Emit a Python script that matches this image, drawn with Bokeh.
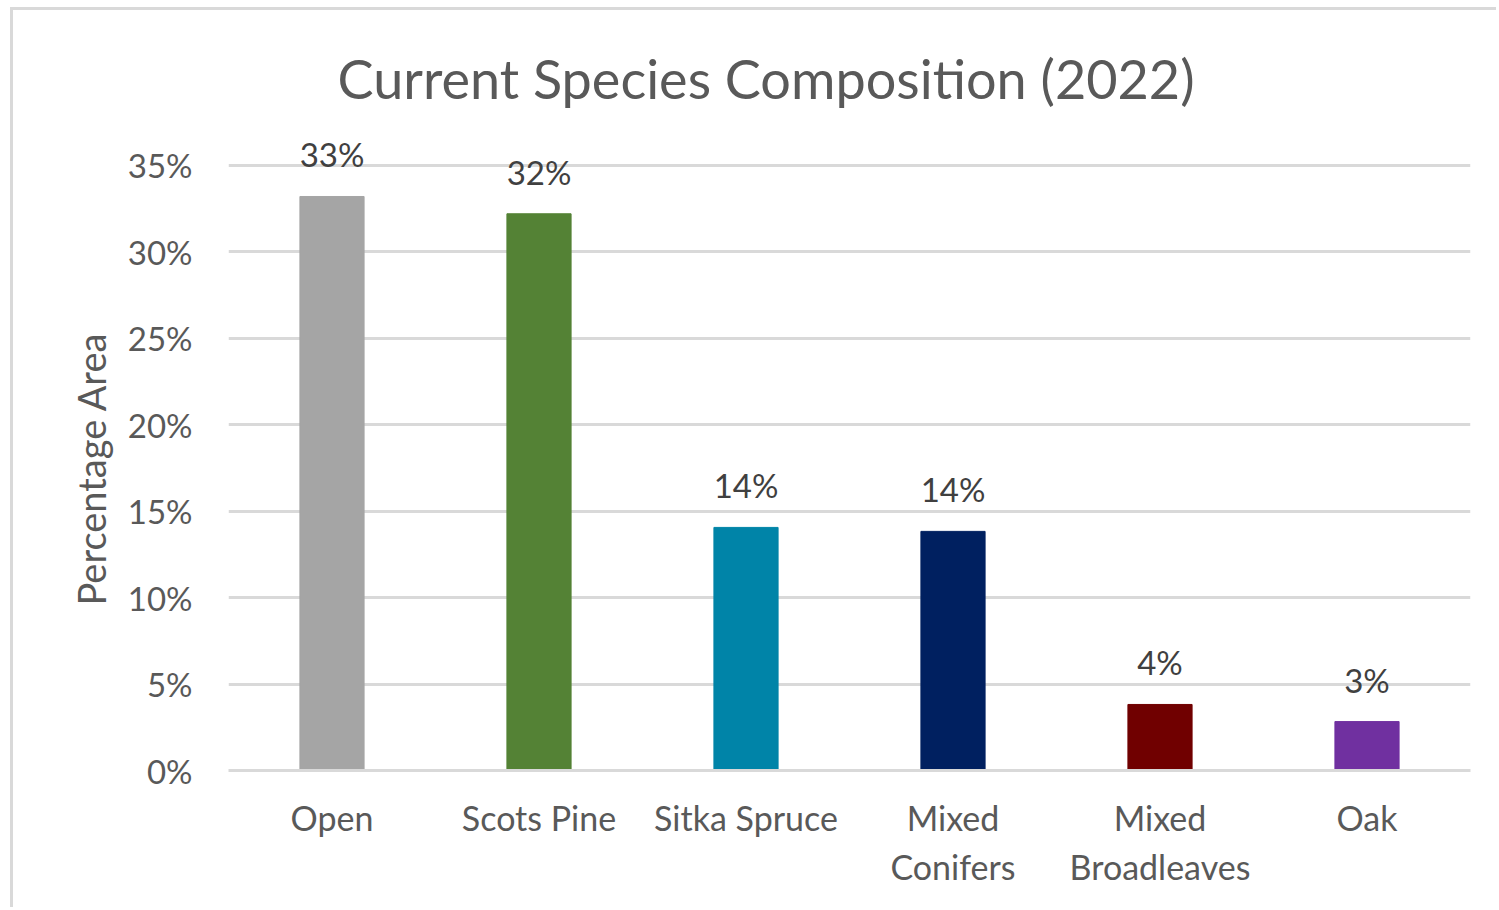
from bokeh.plotting import figure
from bokeh.models import ColumnDataSource, LabelSet, FactorRange, SingleIntervalTicker, PrintfTickFormatter, Title
from bokeh.core.properties import value
from bokeh.embed import file_html
from bokeh.resources import INLINE

categories = ["Open", "Scots Pine", "Sitka Spruce", "Mixed\nConifers", "Mixed\nBroadleaves", "Oak"]
values = [33.2, 32.2, 14.06, 13.83, 3.82, 2.83]
colors = ["#A5A5A5", "#548235", "#0084A8", "#002060", "#700000", "#7030A0"]
labels = [f"{round(v)}%" for v in values]

FONT = "Lato"
src = ColumnDataSource(dict(cat=categories, val=values, color=colors, lab=labels))

p = figure(x_range=FactorRange(*categories), y_range=(0, 38),
           width=1486, height=900, output_backend="svg", toolbar_location=None,
           min_border_left=215, min_border_right=29, min_border_top=103, min_border_bottom=140,
           title="Current Species Composition (2022)")
p.styles = {"margin-left": "10px", "margin-top": "7px",
            "border-left": "3px solid #d9d9d9", "border-top": "3px solid #d9d9d9"}
p.outline_line_color = None

p.title.text_font = FONT
p.title.text_font_size = "54px"
p.title.text_font_style = "normal"
p.title.text_color = "#595959"
p.title.align = "left"
p.title.offset = 109
p.title.standoff = 6

p.vbar(x="cat", top="val", width=0.31, color="color", source=src)

p.add_layout(LabelSet(x="cat", y="val", text="lab", source=src, text_align="center",
                      text_baseline="bottom", y_offset=22, text_font=value(FONT),
                      text_font_size=value("33px"), text_color="#404040"))

p.yaxis.ticker = SingleIntervalTicker(interval=5)
p.yaxis.formatter = PrintfTickFormatter(format="%d%%")
p.yaxis.axis_line_color = None
p.yaxis.major_tick_line_color = None
p.yaxis.minor_tick_line_color = None
p.yaxis.major_label_text_font = FONT
p.yaxis.major_label_text_font_size = "33px"
p.yaxis.major_label_text_color = "#595959"
p.yaxis.major_label_standoff = 30

# y-axis title, aligned to the visible 0-35% span
p.add_layout(Title(text="Percentage Area", align="left", offset=165, standoff=22,
                   text_font=FONT, text_font_size="38px", text_font_style="normal",
                   text_color="#595959"), "left")

p.xaxis.axis_line_color = "#D9D9D9"
p.xaxis.axis_line_width = 3
p.xaxis.major_tick_line_color = None
p.xaxis.minor_tick_line_color = None
p.xaxis.major_label_text_font = FONT
p.xaxis.major_label_text_font_size = "34px"
p.xaxis.major_label_text_color = "#595959"
p.xaxis.major_label_standoff = 20

p.xgrid.grid_line_color = None
p.ygrid.grid_line_color = "#D9D9D9"
p.ygrid.grid_line_width = 3
p.x_range.range_padding = 0

open("out.html", "w").write(file_html(p, INLINE))
